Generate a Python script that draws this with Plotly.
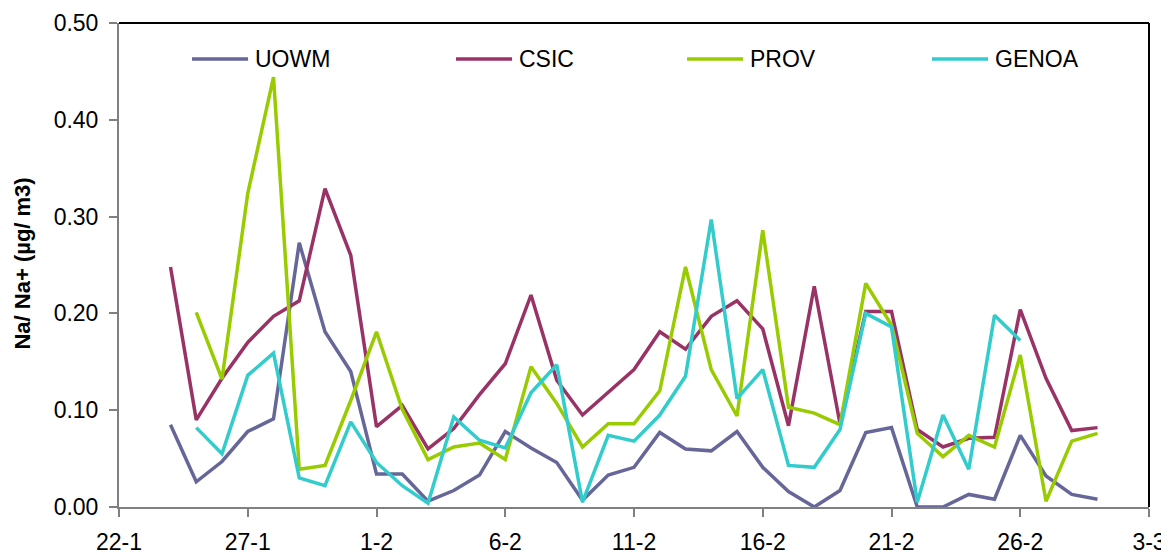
import pandas as pd
import plotly.graph_objects as go

# Daily dates 24-1 .. 1-3
dates = pd.date_range("2010-01-24", "2010-03-01", freq="D")

uowm = [0.085, 0.026, 0.047, 0.078, 0.091, 0.273, 0.181, 0.140, 0.034, 0.034,
        0.006, 0.017, 0.033, 0.078, 0.061, 0.046, 0.007, 0.033, 0.041, 0.077,
        0.060, 0.058, 0.078, 0.041, 0.016, 0.000, 0.017, 0.077, 0.082, 0.000,
        0.000, 0.013, 0.008, 0.074, 0.032, 0.013, 0.008]
csic = [0.248, 0.090, 0.133, 0.170, 0.197, 0.213, 0.329, 0.260, 0.083, 0.105,
        0.060, 0.081, 0.116, 0.148, 0.219, 0.131, 0.095, 0.119, 0.142, 0.181,
        0.163, 0.197, 0.213, 0.184, 0.084, 0.228, 0.086, 0.202, 0.202, 0.080,
        0.062, 0.071, 0.072, 0.204, 0.133, 0.079, 0.082]
prov = [None, 0.201, 0.132, 0.324, 0.444, 0.039, 0.043, 0.110, 0.181, 0.101,
        0.049, 0.062, 0.066, 0.049, 0.145, 0.107, 0.062, 0.086, 0.086, 0.120,
        0.248, 0.142, 0.094, 0.286, 0.103, 0.097, 0.085, 0.231, 0.188, 0.076,
        0.052, 0.074, 0.062, 0.157, 0.006, 0.068, 0.076]
genoa = [None, 0.082, 0.055, 0.136, 0.159, 0.030, 0.022, 0.088, 0.046, 0.022,
         0.004, 0.093, 0.069, 0.061, 0.118, 0.147, 0.005, 0.074, 0.068, 0.095,
         0.135, 0.297, 0.112, 0.142, 0.043, 0.041, 0.080, 0.200, 0.186, 0.005,
         0.095, 0.039, 0.198, 0.172, None, None, None]

series_names = ["UOWM", "CSIC", "PROV", "GENOA"]
series_vals = [uowm, csic, prov, genoa]
colors = ["#666699", "#993366", "#99CC00", "#33CCCC"]

tick_dates = ["2010-01-22", "2010-01-27", "2010-02-01", "2010-02-06", "2010-02-11",
              "2010-02-16", "2010-02-21", "2010-02-26", "2010-03-03"]
tick_labels = ["22-1", "27-1", "1-2", "6-2", "11-2", "16-2", "21-2", "26-2", "3-3"]
y_ticks = [0, 0.1, 0.2, 0.3, 0.4, 0.5]

FONT = "Liberation Sans, Arial, sans-serif"

fig = go.Figure()
for name, vals, col in zip(series_names, series_vals, colors):
    fig.add_trace(go.Scatter(x=dates, y=vals, name=name, mode="lines",
                             line=dict(color=col, width=3.5), connectgaps=False,
                             showlegend=False))

# Custom legend (line sample + label) in paper coordinates
leg_x = [0.0709, 0.3272, 0.5515, 0.7893]
leg_len = 0.0544
leg_y = 0.9256
for name, col, lx in zip(series_names, colors, leg_x):
    fig.add_shape(type="line", xref="paper", yref="paper", x0=lx, x1=lx + leg_len,
                  y0=leg_y, y1=leg_y, line=dict(color=col, width=3.5))
    fig.add_annotation(xref="paper", yref="paper", x=lx + leg_len + 0.005, y=leg_y,
                       text=name, showarrow=False, xanchor="left", yanchor="middle",
                       font=dict(family=FONT, size=23, color="black"))

# Black plot-area border on top and right
fig.add_shape(type="line", xref="paper", yref="paper", x0=0, x1=1, y0=1, y1=1,
              line=dict(color="black", width=2))
fig.add_shape(type="line", xref="paper", yref="paper", x0=1, x1=1, y0=0, y1=1,
              line=dict(color="black", width=2))

fig.add_annotation(xref="paper", yref="paper", x=-0.0932, y=0.503,
                   text="<b>Na/ Na+ (µg/ m3)</b>", textangle=-90, showarrow=False,
                   xanchor="center", yanchor="middle",
                   font=dict(family=FONT, size=22, color="black"))

# page body has an 8px margin: shrink the figure by 8px on the left/top
fig.update_layout(
    width=1161, height=547,
    margin=dict(l=111, r=20, t=15, b=48),
    paper_bgcolor="white", plot_bgcolor="white",
    font=dict(family=FONT, size=23, color="black"),
    showlegend=False,
    xaxis=dict(range=["2010-01-22", "2010-03-03"], tickvals=tick_dates, ticktext=tick_labels,
               ticks="outside", ticklen=8, tickcolor="#808080", tickwidth=2,
               showline=True, linecolor="#808080", linewidth=2, showgrid=False,
               zeroline=False, ticklabelstandoff=5, automargin=False,
               tickfont=dict(size=23)),
    yaxis=dict(range=[0, 0.5], tickvals=y_ticks, tickformat=".2f",
               ticks="outside", ticklen=8, tickcolor="#808080", tickwidth=2,
               showline=True, linecolor="#808080", linewidth=2, showgrid=False,
               zeroline=False, ticklabelstandoff=6, automargin=False,
               tickfont=dict(size=23)),
)

fig.write_html("out.html")
